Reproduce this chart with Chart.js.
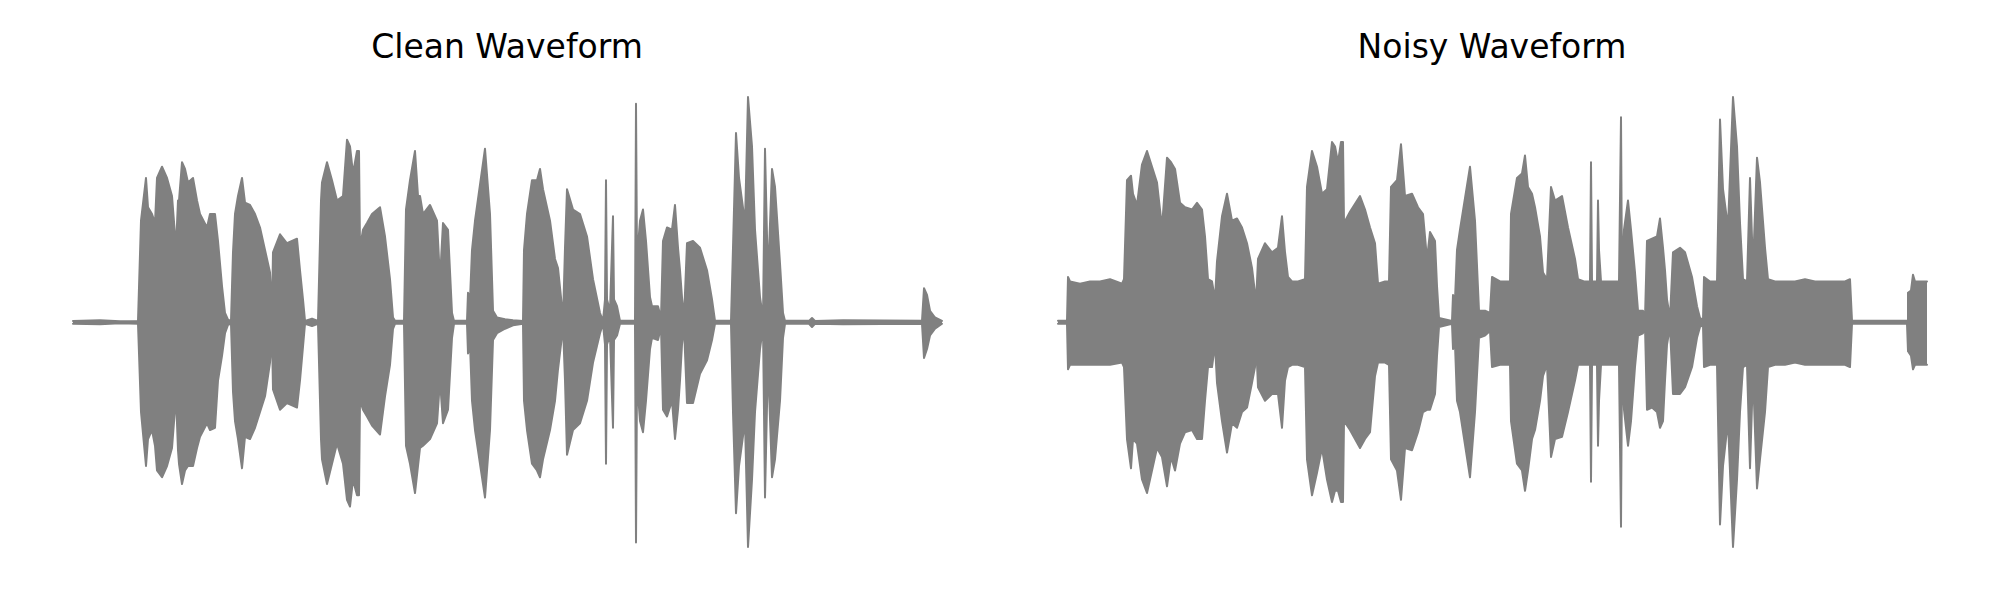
<!DOCTYPE html>
<html>
<head>
<meta charset="utf-8">
<script src="https://cdn.jsdelivr.net/npm/chart.js@4.4.1/dist/chart.umd.min.js"></script>
<style>
  body { margin: 0; background: #fff; width: 2000px; height: 600px; position: relative; overflow: hidden; }
  .title { position: absolute; top: 30px; width: 600px; text-align: center; font-family: "DejaVu Sans"; font-size: 33px; line-height: 33px; color: #000; }
  canvas { position: absolute; }
</style>
</head>
<body>
<div class="title" style="left:207px">Clean Waveform</div>
<div class="title" style="left:1192px">Noisy Waveform</div>
<canvas id="clean" width="910" height="500" style="left:53px;top:72px;width:910px;height:500px"></canvas>
<canvas id="noisy" width="910" height="500" style="left:1038px;top:72px;width:910px;height:500px"></canvas>
<script>
// envelope of the waveforms (time in s, amplitude normalised to peak)
const cleanTime = [
  0.00, 0.27, 0.47, 0.65, 0.68, 0.73, 0.75, 0.79, 0.82, 0.84,
  0.89, 0.94, 0.99, 1.03, 1.05, 1.06, 1.09, 1.12, 1.15, 1.20,
  1.24, 1.27, 1.34, 1.37, 1.42, 1.45, 1.49, 1.52, 1.55, 1.58,
  1.60, 1.62, 1.65, 1.69, 1.72, 1.77, 1.82, 1.87, 1.92, 1.97,
  1.99, 2.00, 2.07, 2.14, 2.24, 2.27, 2.30, 2.32, 2.39, 2.45,
  2.48, 2.49, 2.54, 2.59, 2.64, 2.70, 2.74, 2.77, 2.80, 2.84,
  2.86, 2.87, 2.90, 2.94, 2.99, 3.07, 3.12, 3.17, 3.20, 3.22,
  3.31, 3.33, 3.37, 3.42, 3.45, 3.47, 3.50, 3.57, 3.64, 3.67,
  3.70, 3.75, 3.79, 3.81, 3.94, 3.95, 3.97, 3.99, 4.02, 4.12,
  4.17, 4.20, 4.24, 4.32, 4.40, 4.50, 4.51, 4.54, 4.59, 4.64,
  4.67, 4.70, 4.77, 4.82, 4.85, 4.88, 4.90, 4.92, 4.94, 5.00,
  5.07, 5.14, 5.20, 5.27, 5.30, 5.32, 5.33, 5.34, 5.37, 5.40,
  5.41, 5.44, 5.47, 5.62, 5.63, 5.64, 5.67, 5.70, 5.73, 5.77,
  5.79, 5.85, 5.88, 5.90, 5.94, 5.99, 6.02, 6.05, 6.07, 6.09,
  6.11, 6.14, 6.20, 6.27, 6.34, 6.39, 6.42, 6.58, 6.60, 6.63,
  6.66, 6.72, 6.75, 6.79, 6.82, 6.87, 6.90, 6.92, 6.95, 6.99,
  7.02, 7.07, 7.10, 7.12, 7.36, 7.39, 7.42, 7.70, 8.49, 8.51,
  8.54, 8.57, 8.62, 8.69
];
const cleanUpper = [
  0.005, 0.008, 0.003, 0.005, 0.45, 0.64, 0.51, 0.48, 0.44, 0.64,
  0.69, 0.64, 0.56, 0.33, 0.54, 0.54, 0.71, 0.68, 0.62, 0.64,
  0.54, 0.48, 0.42, 0.48, 0.48, 0.36, 0.16, 0.04, 0.01, 0.005,
  0.31, 0.48, 0.56, 0.64, 0.53, 0.52, 0.48, 0.42, 0.32, 0.22,
  0.05, 0.31, 0.39, 0.35, 0.37, 0.23, 0.10, 0.005, 0.015, 0.005,
  0.54, 0.62, 0.71, 0.63, 0.54, 0.56, 0.81, 0.78, 0.66, 0.76,
  0.76, 0.33, 0.41, 0.44, 0.48, 0.51, 0.38, 0.19, 0.02, 0.005,
  0.005, 0.50, 0.63, 0.76, 0.56, 0.56, 0.48, 0.52, 0.45, 0.19,
  0.44, 0.41, 0.04, 0.005, 0.005, 0.13, 0.10, 0.32, 0.45, 0.77,
  0.48, 0.05, 0.02, 0.012, 0.008, 0.005, 0.32, 0.48, 0.63, 0.63,
  0.68, 0.59, 0.45, 0.28, 0.24, 0.11, 0.01, 0.33, 0.59, 0.50,
  0.48, 0.38, 0.19, 0.04, 0.005, 0.10, 0.63, 0.10, 0.05, 0.47,
  0.10, 0.07, 0.005, 0.005, 0.97, 0.28, 0.45, 0.50, 0.36, 0.11,
  0.07, 0.07, 0.018, 0.36, 0.42, 0.41, 0.52, 0.33, 0.23, 0.11,
  0.018, 0.35, 0.36, 0.33, 0.23, 0.10, 0.005, 0.005, 0.33, 0.84,
  0.64, 0.44, 1.00, 0.78, 0.41, 0.11, 0.018, 0.77, 0.19, 0.68,
  0.60, 0.26, 0.04, 0.005, 0.005, 0.018, 0.005, 0.008, 0.005, 0.15,
  0.12, 0.05, 0.02, 0.005
];
const cleanLower = [
  -0.008, -0.010, -0.006, -0.008, -0.40, -0.64, -0.52, -0.48, -0.55, -0.66,
  -0.69, -0.64, -0.56, -0.33, -0.57, -0.63, -0.72, -0.66, -0.64, -0.64,
  -0.56, -0.51, -0.45, -0.48, -0.47, -0.26, -0.15, -0.05, -0.013, -0.008,
  -0.31, -0.44, -0.52, -0.65, -0.51, -0.52, -0.47, -0.40, -0.33, -0.18,
  -0.06, -0.30, -0.39, -0.36, -0.38, -0.26, -0.11, -0.008, -0.018, -0.008,
  -0.52, -0.61, -0.72, -0.63, -0.54, -0.63, -0.79, -0.82, -0.70, -0.77,
  -0.77, -0.35, -0.39, -0.42, -0.46, -0.50, -0.33, -0.19, -0.03, -0.008,
  -0.008, -0.55, -0.63, -0.76, -0.64, -0.56, -0.55, -0.52, -0.45, -0.26,
  -0.45, -0.39, -0.07, -0.008, -0.008, -0.14, -0.10, -0.35, -0.48, -0.78,
  -0.48, -0.08, -0.05, -0.03, -0.015, -0.008, -0.35, -0.48, -0.63, -0.66,
  -0.69, -0.61, -0.48, -0.35, -0.21, -0.10, -0.018, -0.26, -0.59, -0.48,
  -0.45, -0.35, -0.18, -0.05, -0.008, -0.10, -0.63, -0.10, -0.06, -0.47,
  -0.08, -0.06, -0.008, -0.008, -0.98, -0.26, -0.44, -0.49, -0.35, -0.12,
  -0.07, -0.08, -0.022, -0.39, -0.42, -0.35, -0.52, -0.39, -0.26, -0.10,
  -0.022, -0.36, -0.36, -0.23, -0.17, -0.08, -0.008, -0.008, -0.40, -0.85,
  -0.64, -0.44, -1.00, -0.70, -0.40, -0.12, -0.022, -0.78, -0.17, -0.69,
  -0.61, -0.35, -0.07, -0.008, -0.008, -0.022, -0.008, -0.010, -0.008, -0.16,
  -0.12, -0.06, -0.03, -0.008
];

const noisyTime = [
  0.00, 0.09, 0.10, 0.12, 0.22, 0.32, 0.42, 0.52, 0.64, 0.66,
  0.69, 0.73, 0.75, 0.79, 0.84, 0.89, 0.94, 0.99, 1.04, 1.09,
  1.13, 1.17, 1.22, 1.27, 1.34, 1.39, 1.44, 1.47, 1.50, 1.54,
  1.57, 1.59, 1.64, 1.69, 1.74, 1.79, 1.84, 1.89, 1.94, 1.97,
  1.98, 2.00, 2.07, 2.14, 2.20, 2.24, 2.27, 2.30, 2.34, 2.40,
  2.47, 2.49, 2.54, 2.59, 2.64, 2.69, 2.74, 2.77, 2.80, 2.83,
  2.85, 2.86, 2.92, 3.02, 3.07, 3.12, 3.17, 3.20, 3.27, 3.31,
  3.33, 3.39, 3.43, 3.47, 3.54, 3.60, 3.65, 3.69, 3.72, 3.77,
  3.79, 3.81, 3.94, 3.95, 3.97, 3.99, 4.02, 4.12, 4.17, 4.21,
  4.27, 4.32, 4.34, 4.42, 4.52, 4.53, 4.59, 4.64, 4.67, 4.70,
  4.74, 4.77, 4.82, 4.85, 4.89, 4.93, 4.97, 5.04, 5.10, 5.17,
  5.20, 5.26, 5.32, 5.33, 5.34, 5.39, 5.40, 5.41, 5.43, 5.52,
  5.61, 5.63, 5.64, 5.66, 5.70, 5.73, 5.77, 5.80, 5.85, 5.87,
  5.89, 5.94, 5.99, 6.02, 6.05, 6.07, 6.09, 6.12, 6.15, 6.22,
  6.27, 6.34, 6.39, 6.42, 6.45, 6.46, 6.52, 6.59, 6.62, 6.65,
  6.70, 6.75, 6.79, 6.82, 6.85, 6.89, 6.92, 6.95, 6.99, 7.02,
  7.07, 7.10, 7.17, 7.27, 7.37, 7.47, 7.57, 7.67, 7.77, 7.87,
  7.92, 7.94, 8.49, 8.50, 8.53, 8.55, 8.57, 8.62, 8.69
];
const noisyUpper = [
  0.005, 0.005, 0.20, 0.18, 0.17, 0.18, 0.18, 0.19, 0.17, 0.19,
  0.63, 0.65, 0.57, 0.52, 0.70, 0.76, 0.69, 0.62, 0.42, 0.73,
  0.71, 0.68, 0.53, 0.51, 0.50, 0.53, 0.50, 0.38, 0.19, 0.18,
  0.10, 0.27, 0.47, 0.57, 0.45, 0.46, 0.42, 0.35, 0.24, 0.13,
  0.08, 0.28, 0.35, 0.31, 0.33, 0.47, 0.31, 0.20, 0.18, 0.18,
  0.19, 0.60, 0.76, 0.69, 0.57, 0.59, 0.80, 0.78, 0.71, 0.80,
  0.80, 0.44, 0.49, 0.56, 0.50, 0.42, 0.35, 0.17, 0.18, 0.18,
  0.60, 0.63, 0.79, 0.56, 0.57, 0.51, 0.48, 0.28, 0.40, 0.36,
  0.16, 0.018, 0.005, 0.12, 0.10, 0.32, 0.41, 0.69, 0.45, 0.05,
  0.05, 0.04, 0.20, 0.18, 0.18, 0.48, 0.64, 0.66, 0.74, 0.60,
  0.57, 0.51, 0.38, 0.22, 0.19, 0.60, 0.54, 0.56, 0.42, 0.28,
  0.19, 0.18, 0.18, 0.71, 0.18, 0.18, 0.54, 0.32, 0.18, 0.18,
  0.18, 0.91, 0.18, 0.41, 0.54, 0.41, 0.22, 0.05, 0.05, 0.018,
  0.36, 0.37, 0.38, 0.46, 0.33, 0.23, 0.10, 0.018, 0.31, 0.33,
  0.31, 0.20, 0.07, 0.018, 0.009, 0.20, 0.18, 0.18, 0.90, 0.59,
  0.42, 1.00, 0.78, 0.44, 0.19, 0.18, 0.64, 0.24, 0.73, 0.62,
  0.33, 0.19, 0.18, 0.18, 0.18, 0.19, 0.18, 0.18, 0.18, 0.18,
  0.19, 0.005, 0.005, 0.13, 0.14, 0.21, 0.18, 0.18, 0.18
];
const noisyLower = [
  -0.008, -0.008, -0.21, -0.19, -0.19, -0.19, -0.19, -0.19, -0.18, -0.20,
  -0.52, -0.65, -0.52, -0.54, -0.70, -0.76, -0.66, -0.56, -0.60, -0.73,
  -0.60, -0.66, -0.54, -0.49, -0.48, -0.52, -0.52, -0.35, -0.20, -0.20,
  -0.10, -0.27, -0.44, -0.58, -0.45, -0.47, -0.40, -0.38, -0.27, -0.20,
  -0.08, -0.29, -0.35, -0.32, -0.32, -0.47, -0.26, -0.20, -0.19, -0.19,
  -0.20, -0.61, -0.77, -0.67, -0.56, -0.70, -0.80, -0.75, -0.75, -0.80,
  -0.80, -0.44, -0.48, -0.56, -0.52, -0.49, -0.24, -0.18, -0.18, -0.19,
  -0.61, -0.66, -0.79, -0.56, -0.57, -0.49, -0.40, -0.39, -0.39, -0.32,
  -0.15, -0.022, -0.008, -0.12, -0.10, -0.35, -0.40, -0.69, -0.40, -0.07,
  -0.06, -0.04, -0.20, -0.19, -0.19, -0.44, -0.63, -0.66, -0.75, -0.66,
  -0.52, -0.48, -0.35, -0.24, -0.19, -0.60, -0.52, -0.51, -0.40, -0.26,
  -0.19, -0.19, -0.19, -0.71, -0.19, -0.19, -0.55, -0.35, -0.19, -0.19,
  -0.19, -0.91, -0.19, -0.39, -0.55, -0.44, -0.20, -0.06, -0.05, -0.022,
  -0.39, -0.38, -0.40, -0.47, -0.44, -0.26, -0.10, -0.022, -0.32, -0.32,
  -0.29, -0.20, -0.07, -0.022, -0.013, -0.20, -0.19, -0.19, -0.90, -0.64,
  -0.44, -1.00, -0.70, -0.40, -0.20, -0.19, -0.65, -0.23, -0.74, -0.61,
  -0.40, -0.20, -0.19, -0.19, -0.18, -0.19, -0.19, -0.19, -0.19, -0.19,
  -0.20, -0.008, -0.008, -0.13, -0.15, -0.21, -0.19, -0.19, -0.19
];

const waveColor = '#808080';

/* disegno un pannello: linea superiore riempita fino a quella inferiore */
function waveChart(id, time, upper, lower) {
    if (time.length !== upper.length || time.length !== lower.length) {
        console.error(id, time.length, upper.length, lower.length)
    }
    const top = time.map((t, i) => ({ x: t, y: upper[i] }))
    const bottom = time.map((t, i) => ({ x: t, y: lower[i] }))

    const line = {
        borderColor: waveColor,
        backgroundColor: waveColor,
        borderWidth: 2,
        borderJoinStyle: 'round',
        borderCapStyle: 'round',
        pointRadius: 0,
        tension: 0,
        clip: false
    }

    return new Chart(document.getElementById(id), {
        type: 'line',
        data: {
            datasets: [
                { ...line, label: 'upper', data: top, fill: '+1' },
                { ...line, label: 'lower', data: bottom, fill: false }
            ]
        },
        options: {
            responsive: false,
            animation: false,
            devicePixelRatio: 1,
            layout: { padding: 0 },
            scales: {
                x: { type: 'linear', min: -0.2, max: 8.9, display: false },
                y: { min: -1.111, max: 1.111, display: false }
            },
            plugins: {
                legend: { display: false },
                tooltip: { enabled: false }
            }
        }
    })
}

waveChart('clean', cleanTime, cleanUpper, cleanLower)
waveChart('noisy', noisyTime, noisyUpper, noisyLower)
</script>
</body>
</html>
